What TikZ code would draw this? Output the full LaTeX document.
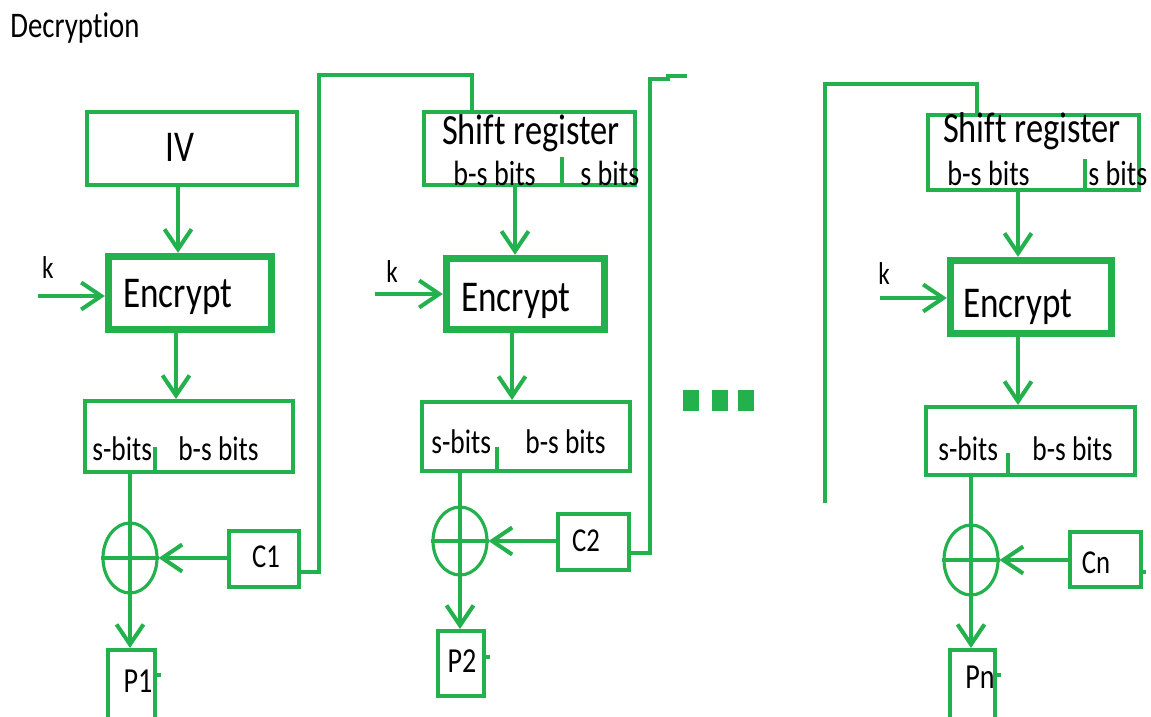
\documentclass[tikz,border=0pt]{standalone}
\usepackage{fontspec}
\setmainfont{Carlito}[FakeStretch=0.8, Ligatures=NoCommon]
\usetikzlibrary{arrows.meta,calc,shapes.geometric}

\definecolor{pgreen}{RGB}{34,177,76}
\def\px{0.02cm}

\tikzset{
  box/.style={draw=pgreen, line width=2.3pt, inner sep=0pt},
  encbox/.style={draw=pgreen, line width=4.2pt, inner sep=0pt},
  xorop/.style={ellipse, draw=pgreen, line width=1.8pt, inner sep=0pt, minimum width=54*\px, minimum height=70*\px},
  wire/.style={draw=pgreen, line width=2.3pt},
  fb/.style={draw=pgreen, line width=2pt},
  arr/.style={wire, -{Straight Barb[length=4mm, width=5.4mm]}},
  lbl/.style={inner sep=0pt, anchor=base west},
}

\begin{document}
\begin{tikzpicture}[x=\px, y=-\px, line join=miter]
      \useasboundingbox (0,0) rectangle (1151,716);
      \clip (0,0) rectangle (1151,716);

      \node[lbl, font=\fontsize{20.5}{24}\selectfont] (title) at (10,38) {Decryption};

      % Boxes (stage 1)
      \node[box, minimum width=210*\px, minimum height=73*\px] (iv) at (192,148.5) {};
      \node[encbox, minimum width=163*\px, minimum height=73*\px] (enc1) at (190,293) {};
      \node[box, minimum width=208*\px, minimum height=71*\px] (out1) at (189,436.5) {};
      \node[box, minimum width=70*\px, minimum height=56*\px] (c1) at (264,559) {};
      \node[box, minimum width=47*\px, minimum height=90*\px] (p1) at (131.5,695) {};
      \node[xorop] (xor1) at (130,558) {};
      \coordinate (kin1) at (38,296);

      % Boxes (stage 2)
      \node[box, minimum width=211*\px, minimum height=73*\px] (sr2) at (529.5,148.5) {};
      \node[encbox, minimum width=158*\px, minimum height=71*\px] (enc2) at (525.5,294) {};
      \node[box, minimum width=208*\px, minimum height=69*\px] (out2) at (526,436.5) {};
      \node[box, minimum width=71*\px, minimum height=56*\px] (c2) at (593.5,542) {};
      \node[box, minimum width=46*\px, minimum height=65*\px] (p2) at (461,663.5) {};
      \node[xorop, minimum height=68*\px] (xor2) at (460,541) {};
      \coordinate (kin2) at (375,294);
      \coordinate (open2) at (687,76);

      % Boxes (stage n)
      \node[box, minimum width=211*\px, minimum height=75*\px] (sr3) at (1033.5,152.5) {};
      \node[encbox, minimum width=161*\px, minimum height=73*\px] (enc3) at (1031,297) {};
      \node[box, minimum width=209*\px, minimum height=68*\px] (out3) at (1030.5,441) {};
      \node[box, minimum width=71*\px, minimum height=55*\px] (cn) at (1105.5,559.5) {};
      \node[box, minimum width=45*\px, minimum height=90*\px] (pn) at (972.5,695) {};
      \node[xorop] (xor3) at (971,560) {};
      \coordinate (kin3) at (880,298);
      \coordinate (open3) at (825,503);

      % Texts
      \node[inner sep=0pt, anchor=base, font=\fontsize{25}{28}\selectfont] (tiv) at (180,162) {IV};
      \foreach \n/\x/\y in {1/123/307, 2/461/311, 3/963/317}
        \node[lbl, font=\fontsize{25}{28}\selectfont] (tenc\n) at (\x,\y) {Encrypt};
      \foreach \n/\x/\y in {1/48/278, 2/392/282, 3/884/284}
        \node[inner sep=0pt, anchor=base, font=\fontsize{18}{20}\selectfont] (tk\n) at (\x,\y) {k};
      \node[inner sep=0pt, anchor=base, font=\fontsize{24.5}{26}\selectfont] (tsr2) at (531,145) {Shift register};
      \node[inner sep=0pt, anchor=base, font=\fontsize{24.5}{26}\selectfont] (tsr3) at (1032,143) {Shift register};
      \foreach \n/\x/\xx in {2/453/580, 3/947/1088} {
        \node[lbl, font=\fontsize{20}{22}\selectfont] (tbs\n) at (\x,185) {b-s bits};
        \node[lbl, font=\fontsize{20}{22}\selectfont] (ts\n) at (\xx,185) {s bits};
      }
      \foreach \n/\x/\xx/\y in {1/92/178/460, 2/431/525/453, 3/938/1032/460} {
        \node[lbl, font=\fontsize{19.5}{22}\selectfont] (tos\n) at (\x,\y) {s-bits};
        \node[lbl, font=\fontsize{19.5}{22}\selectfont] (tob\n) at (\xx,\y) {b-s bits};
      }
      \node[inner sep=0pt, anchor=base, font=\fontsize{19}{22}\selectfont] (tc1) at (266,567) {C1};
      \node[inner sep=0pt, anchor=base, font=\fontsize{19}{22}\selectfont] (tc2) at (586,551) {C2};
      \node[inner sep=0pt, anchor=base, font=\fontsize{19}{22}\selectfont] (tcn) at (1096,573) {Cn};
      \node[inner sep=0pt, anchor=base, font=\fontsize{20}{22}\selectfont] (tp1) at (138,692) {P1};
      \node[inner sep=0pt, anchor=base, font=\fontsize{20}{22}\selectfont] (tp2) at (462,672) {P2};
      \node[inner sep=0pt, anchor=base, font=\fontsize{20}{22}\selectfont] (tpn) at (980,688) {Pn};

      % Stage 1 wiring
      \draw[arr] ($(iv.south)+(-14,0)$) -- ($(enc1.north)+(-12,0)$);
      \draw[arr] (kin1) -- (kin1 -| enc1.west);
      \draw[arr] ($(enc1.south)+(-14,0)$) -- ($(out1.north)+(-13,0)$);
      \draw[wire] ($(out1.south)+(-34,0)$) -- ++(0,-27);
      \draw[wire] (xor1 |- out1.south) -- (xor1.south);
      \draw[arr] (xor1.south) -- (xor1.south |- p1.north);
      \draw[wire] (xor1.west) -- (xor1.east);
      \draw[arr] (xor1 -| c1.west) -- (xor1.east);
      \draw[wire] ($(p1.east)+(0,-20)$) -- ++(4,0);
      \draw[fb] ($(c1.east)+(0,13)$) -| (319,75) -| ($(sr2.north)+(-57.5,0)$);

      % Stage 2 wiring
      \draw[wire] ($(sr2.south)+(32.5,0)$) -- ++(0,-30);
      \draw[arr] ($(sr2.south)+(-14.5,0)$) -- ($(enc2.north)+(-10.5,0)$);
      \draw[arr] (kin2) -- (kin2 -| enc2.west);
      \draw[arr] ($(enc2.south)+(-13.5,0)$) -- ($(out2.north)+(-14,0)$);
      \draw[wire] ($(out2.south)+(-29,0)$) -- ++(0,-26);
      \draw[wire] (xor2 |- out2.south) -- (xor2.south);
      \draw[arr] (xor2.south) -- (xor2.south |- p2.north);
      \draw[wire] (xor2.west) -- (xor2.east);
      \draw[arr] (xor2 -| c2.west) -- (xor2.east);
      \draw[wire] ($(p2.east)+(0,-6.5)$) -- ++(4,0);
      \draw[fb] ($(c2.east)+(0,11)$) -| (650,79) -- (668,79) -- (668,76) -- (open2);

      % dots
      \foreach \x in {683,712,738}
        \fill[pgreen] (\x,390) rectangle ++(16,21);

      % Stage n wiring
      \draw[fb] (open3) |- (977,84) -- ($(sr3.north)+(-56.5,0)$);
      \draw[wire] ($(sr3.south)+(51.5,0)$) -- ++(0,-33);
      \draw[arr] ($(sr3.south)+(-15.5,0)$) -- ($(enc3.north)+(-13,0)$);
      \draw[arr] (kin3) -- (kin3 -| enc3.west);
      \draw[arr] ($(enc3.south)+(-13,0)$) -- ($(out3.north)+(-12.5,0)$);
      \draw[wire] ($(out3.south)+(-22.5,0)$) -- ++(0,-24);
      \draw[wire] (xor3 |- out3.south) -- (xor3.south);
      \draw[arr] (xor3.south) -- (xor3.south |- pn.north);
      \draw[wire] (xor3.west) -- (xor3.east);
      \draw[arr] (xor3 -| cn.west) -- (xor3.east);
      \draw[wire] ($(pn.east)+(0,-20)$) -- ++(4,0);
      \draw[wire] ($(cn.east)+(0,12.5)$) -- ++(3,0);
\end{tikzpicture}
\end{document}
